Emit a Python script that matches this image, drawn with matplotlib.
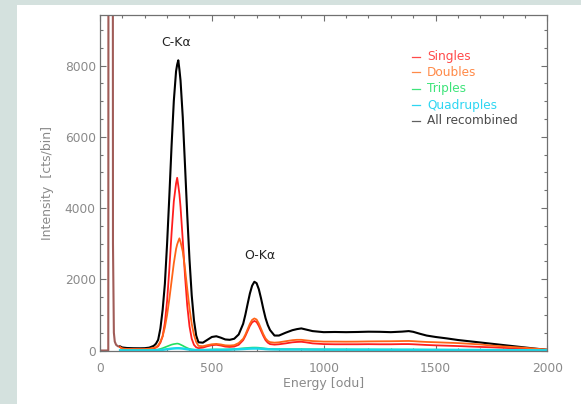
import matplotlib
matplotlib.use('Agg')
import matplotlib.pyplot as plt
from matplotlib.patches import Rectangle
from matplotlib.ticker import MultipleLocator

# Energy grid (odu) shared by all event classes
energy = [90, 100, 120, 150, 180, 200, 220, 240, 250, 260,
          270, 280, 290, 300, 310, 320, 330, 340, 345, 350,
          355, 360, 370, 380, 390, 400, 410, 420, 430, 440,
          460, 480, 500, 520, 540, 560, 580, 600, 620, 640,
          650, 660, 670, 680, 690, 700, 710, 720, 730, 740,
          750, 760, 780, 800, 830, 860, 880, 900, 920, 950,
          1000, 1050, 1100, 1150, 1200, 1250, 1300, 1350, 1380, 1400,
          1430, 1460, 1500, 1550, 1600, 1650, 1700, 1750, 1800, 1850,
          1900, 1950, 2000]

singles = [90, 50, 38, 35, 33, 35, 40, 60, 80, 120,
           220, 400, 780, 1400, 2290, 3300, 4190, 4690, 4850, 4630,
           4390, 4030, 3100, 2100, 1260, 680, 330, 160, 90, 65,
           80, 120, 150, 160, 140, 110, 100, 110, 160, 290,
           410, 550, 690, 790, 830, 800, 690, 550, 410, 290,
           220, 180, 165, 175, 200, 230, 240, 245, 230, 200,
           180, 175, 175, 175, 178, 175, 175, 180, 180, 175,
           165, 155, 145, 135, 125, 112, 100, 90, 75, 60,
           45, 30, 15]

doubles = [95, 55, 42, 40, 38, 40, 50, 75, 95, 145,
           250, 400, 650, 1000, 1450, 1950, 2450, 2850, 2980, 3070,
           3150, 3050, 2780, 2300, 1730, 1190, 750, 440, 240, 130,
           120, 150, 175, 185, 170, 145, 140, 150, 210, 330,
           450, 600, 750, 860, 900, 870, 760, 610, 460, 340,
           270, 235, 220, 230, 260, 290, 300, 300, 285, 265,
           250, 250, 248, 250, 255, 258, 260, 265, 268, 262,
           250, 240, 232, 220, 208, 190, 170, 140, 115, 95,
           75, 50, 25]

triples = [5, 5, 4, 4, 4, 5, 8, 15, 20, 30,
           45, 65, 90, 115, 140, 165, 180, 190, 195, 190,
           180, 165, 135, 100, 70, 45, 30, 22, 18, 16,
           18, 22, 28, 30, 28, 28, 32, 40, 50, 62,
           68, 74, 78, 82, 83, 82, 78, 70, 62, 54,
           48, 44, 40, 38, 38, 38, 38, 38, 36, 34,
           32, 30, 30, 29, 28, 27, 26, 25, 25, 24,
           23, 22, 21, 20, 18, 16, 14, 12, 10, 8,
           6, 4, 2]

quadruples = [2, 2, 2, 2, 2, 2, 3, 5, 7, 10,
              14, 20, 28, 36, 44, 52, 58, 62, 63, 63,
              62, 60, 54, 45, 35, 26, 19, 14, 12, 11,
              12, 14, 16, 18, 18, 20, 24, 30, 36, 42,
              46, 50, 53, 55, 56, 56, 54, 50, 46, 40,
              36, 33, 30, 28, 27, 27, 27, 27, 26, 25,
              24, 23, 23, 22, 22, 21, 21, 20, 20, 20,
              19, 18, 18, 17, 16, 15, 14, 12, 10, 9,
              7, 5, 3]

all_recombined = [110, 85, 70, 64, 62, 65, 80, 130, 190, 300,
                  620, 1140, 1870, 3010, 4340, 5760, 7010, 7840, 8030, 8150,
                  7890, 7580, 6550, 5200, 3810, 2560, 1550, 850, 420, 230,
                  220, 300, 380, 400, 360, 310, 300, 330, 450, 750,
                  1010, 1310, 1600, 1820, 1930, 1890, 1720, 1460, 1170, 910,
                  715, 575, 420, 420, 500, 570, 600, 620, 590, 545,
                  515, 520, 515, 520, 528, 525, 515, 530, 545, 525,
                  470, 420, 380, 340, 295, 260, 225, 190, 155, 120,
                  85, 50, 20]

# low-energy noise peak (runs off the top of the plot)
noise_energy = [0, 37, 39, 56, 58, 62, 66, 72, 80, 90]
noise_counts = [0, 0, 30000, 30000, 3000, 500, 250, 160, 120, 110]

series_names = ['Singles', 'Doubles', 'Triples', 'Quadruples', 'All recombined']
series_colors = ['#ff1e1e', '#ff6418', '#22e060', '#18d8ea', '#000000']
label_colors = ['#ff4a4a', '#ff8a48', '#3ee47a', '#2ed6f2', '#4a4a4a']

fig = plt.figure(figsize=(5.81, 4.04), dpi=100)
fig.patch.set_facecolor('white')
# grey frame of the slide on the left and top
fig.patches.append(Rectangle((0, 0), 17 / 581, 1, transform=fig.transFigure,
                             facecolor='#d4e1de', edgecolor='none', zorder=0))
fig.patches.append(Rectangle((0, 1 - 5 / 404), 1, 5 / 404, transform=fig.transFigure,
                             facecolor='#d4e1de', edgecolor='none', zorder=0))

ax = fig.add_axes([100 / 581, 53.5 / 404, 447.4 / 581, 335.8 / 404])

ax.plot(noise_energy, noise_counts, color='#a05c58', lw=1.5)
ax.plot(energy, all_recombined, color=series_colors[4], lw=1.5)
ax.plot(energy, singles, color=series_colors[0], lw=1.3)
ax.plot(energy, doubles, color=series_colors[1], lw=1.3)
ax.plot(energy, triples, color=series_colors[2], lw=1.2)
ax.plot(energy, quadruples, color=series_colors[3], lw=1.8)

ax.set_xlim(0, 2000)
ax.set_ylim(0, 9430)

ax.xaxis.set_major_locator(MultipleLocator(500))
ax.xaxis.set_minor_locator(MultipleLocator(100))
ax.yaxis.set_major_locator(MultipleLocator(2000))
ax.yaxis.set_minor_locator(MultipleLocator(500))
ax.tick_params(which='both', direction='in', top=True, right=True,
               color='#707070', width=0.8)
ax.tick_params(which='major', length=4)
ax.tick_params(which='minor', length=2.5)
ax.tick_params(axis='x', which='major', labelsize=8.8, labelcolor='#8a8a8a', pad=8)
ax.tick_params(axis='y', which='major', labelsize=8.8, labelcolor='#8a8a8a', pad=3)
for sp in ax.spines.values():
    sp.set_color('#707070')
    sp.set_linewidth(0.9)

ax.set_xlabel('Energy [odu]', fontsize=9, color='#8a8a8a', labelpad=2)
ax.set_ylabel('Intensity  [cts/bin]', fontsize=9, color='#8a8a8a', labelpad=8)

ax.text(340, 8646, 'C-Kα', ha='center', va='center', fontsize=9, color='#222222')
ax.text(715, 2663, 'O-Kα', ha='center', va='center', fontsize=9, color='#222222')

# legend drawn by hand, IDL style
legend_y = [0.875, 0.828, 0.779, 0.731, 0.684]
for name, col, tcol, yy in zip(series_names, series_colors, label_colors, legend_y):
    lcol = '#606060' if col == '#000000' else tcol
    ax.plot([0.697, 0.715], [yy, yy], color=lcol, lw=0.9, transform=ax.transAxes)
    ax.text(0.731, yy, name, color=tcol, fontsize=8.7, va='center', ha='left',
            transform=ax.transAxes)

fig.savefig('out.png', dpi=100)
